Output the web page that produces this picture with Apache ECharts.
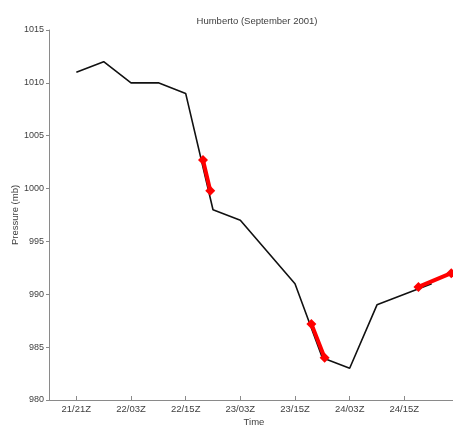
<!DOCTYPE html>
<html>
<head>
<meta charset="utf-8">
<script src="https://cdn.jsdelivr.net/npm/echarts@6/dist/echarts.min.js"></script>
<style>
  html, body { margin: 0; padding: 0; background: #fff; }
  #chart { width: 453px; height: 425px; }
</style>
</head>
<body>
<div id="chart"></div>
<script>
// Hours after 21/21Z; best-track pressure every 6 hours
const trackHours = [0, 6, 12, 18, 24, 30, 36, 42, 48, 54, 60, 66, 72, 78];
const trackPressure = [1011, 1012, 1010, 1010, 1009, 998, 997, 994, 991, 984, 983, 989, 990, 991];

// Highlighted pressure segments (pairs of observations)
const segHours = [27.8, 29.4, 51.6, 54.5, 75.1, 82.3];
const segPressure = [1002.7, 999.8, 987.2, 984.0, 990.7, 992.0];

// Tick labels every 12 hours starting at hour 0
const tickHours = [0, 12, 24, 36, 48, 60, 72];
const tickLabels = ['21/21Z', '22/03Z', '22/15Z', '23/03Z', '23/15Z', '24/03Z', '24/15Z'];

const trackData = trackHours.map((h, i) => [h, trackPressure[i]]);
const segData = [];
for (let i = 0; i < segHours.length; i += 2) {
  segData.push([segHours[i], segPressure[i]]);
  segData.push([segHours[i + 1], segPressure[i + 1]]);
  if (i + 2 < segHours.length) segData.push(['-', '-']);
}

const textColor = '#404040';
const axisColor = '#8a8a8a';
const font = 'Liberation Sans, Arial, sans-serif';

const chart = echarts.init(document.getElementById('chart'), null, { renderer: 'canvas' });
chart.setOption({
  animation: false,
  backgroundColor: '#fff',
  title: {
    text: 'Humberto (September 2001)',
    left: 252, top: 11,
    textAlign: 'center',
    textStyle: { fontFamily: font, fontSize: 9.5, fontWeight: 'normal', color: textColor }
  },
  grid: { left: 49, right: -6, top: 30, bottom: 25, containLabel: false, outerBoundsMode: 'none' },
  xAxis: {
    type: 'value', min: -6, max: 84, interval: 6,
    name: 'Time', nameLocation: 'middle', nameGap: 17, nameMoveOverlap: false,
    nameTextStyle: { fontFamily: font, fontSize: 9.5, color: textColor },
    axisLine: { show: true, onZero: false, lineStyle: { color: axisColor, width: 1 } },
    axisTick: {
      show: true, inside: true, length: 4, lineStyle: { color: axisColor },
      customValues: tickHours
    },
    axisLabel: {
      fontFamily: font, fontSize: 9.5, color: textColor, margin: 4,
      customValues: tickHours,
      formatter: v => { const i = tickHours.indexOf(v); return i >= 0 ? tickLabels[i] : ''; }
    },
    splitLine: { show: false }
  },
  yAxis: {
    type: 'value', min: 980, max: 1015, interval: 5,
    name: 'Pressure (mb)', nameLocation: 'middle', nameGap: 29, nameMoveOverlap: false,
    nameTextStyle: { fontFamily: font, fontSize: 9.5, color: textColor },
    axisLine: { show: true, onZero: false, lineStyle: { color: axisColor, width: 1 } },
    axisTick: { show: true, inside: false, length: 3, lineStyle: { color: axisColor } },
    axisLabel: { fontFamily: font, fontSize: 9, color: textColor, margin: 5, formatter: v => String(v) },
    splitLine: { show: false }
  },
  series: [
    {
      type: 'line', data: trackData, symbol: 'none',
      lineStyle: { color: '#111', width: 1.6 }, z: 2
    },
    {
      type: 'line', data: segData, connectNulls: false,
      symbol: 'diamond', symbolSize: 10,
      itemStyle: { color: '#ff0000' },
      lineStyle: { color: '#ff0000', width: 4 }, z: 3
    }
  ]
});
</script>
</body>
</html>
